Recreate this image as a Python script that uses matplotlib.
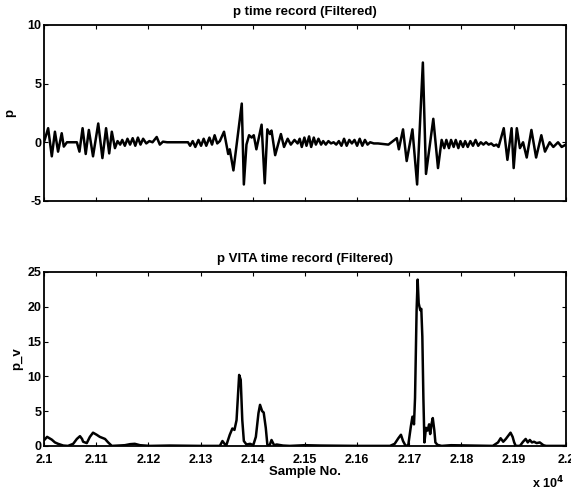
import numpy as np
import matplotlib.pyplot as plt
from matplotlib.ticker import FuncFormatter

# top panel: p (filtered), turning points
p_sample = [21000, 21008, 21015, 21021, 21027, 21034, 21038, 21044, 21063, 21068,
            21074, 21080, 21086, 21094, 21104, 21112, 21119, 21125, 21130, 21136,
            21141, 21146, 21150, 21155, 21160, 21165, 21170, 21175, 21180, 21185,
            21190, 21196, 21202, 21208, 21216, 21222, 21228, 21236, 21276, 21280,
            21285, 21290, 21296, 21301, 21306, 21311, 21317, 21322, 21327, 21332,
            21337, 21345, 21353, 21356, 21363, 21374, 21379, 21383, 21388, 21393,
            21398, 21402, 21407, 21417, 21423, 21428, 21433, 21436, 21443, 21454,
            21460, 21467, 21473, 21480, 21486, 21490, 21494, 21499, 21503, 21508,
            21512, 21517, 21521, 21526, 21531, 21535, 21540, 21545, 21550, 21555,
            21560, 21565, 21570, 21575, 21580, 21585, 21590, 21595, 21600, 21605,
            21610, 21615, 21620, 21625, 21632, 21640, 21660, 21676, 21680, 21688,
            21695, 21706, 21715, 21726, 21732, 21746, 21755, 21762, 21767, 21771,
            21776, 21780, 21785, 21789, 21794, 21798, 21803, 21807, 21812, 21817,
            21822, 21827, 21832, 21837, 21842, 21847, 21852, 21857, 21862, 21867,
            21871, 21881, 21888, 21896, 21900, 21906, 21912, 21918, 21925, 21934,
            21943, 21953, 21960, 21969, 21976, 21985, 21992, 22000]
p_value = [0.0, 1.2, -1.2, 0.9, -0.8, 0.77, -0.37, 0.0, 0.0, -0.8,
           1.2, -1.0, 1.05, -1.2, 1.6, -1.35, 1.2, -0.95, 0.9, -0.5,
           0.1, -0.2, 0.2, -0.3, 0.3, -0.2, 0.35, -0.3, 0.4, -0.2,
           0.3, -0.1, 0.1, 0.0, 0.45, -0.2, 0.05, 0.0, 0.0, -0.3,
           0.1, -0.4, 0.2, -0.3, 0.3, -0.3, 0.4, -0.2, 0.6, -0.1,
           0.1, 0.9, -1.0, -0.6, -2.4, 1.5, 3.3, -3.6, -0.2, 0.6,
           0.4, 0.6, -0.6, 1.5, -3.5, 1.1, 0.7, 1.0, -1.1, 0.7,
           -0.4, 0.3, -0.2, 0.2, -0.1, 0.3, -0.4, 0.4, -0.3, 0.5,
           -0.4, 0.4, -0.2, 0.3, -0.2, 0.1, -0.2, 0.1, -0.1, 0.0,
           -0.2, 0.1, -0.3, 0.3, -0.3, 0.2, -0.1, 0.2, -0.3, 0.3,
           -0.3, 0.2, -0.2, 0.0, -0.1, -0.1, -0.2, 0.35, -0.6, 1.1,
           -1.6, 1.1, -3.6, 6.8, -2.7, 2.0, -2.2, 0.2, -0.5, 0.2,
           -0.5, 0.2, -0.4, 0.2, -0.5, 0.1, -0.4, 0.1, -0.4, 0.1,
           -0.3, 0.2, -0.3, 0.0, -0.2, 0.0, -0.2, -0.1, -0.3, -0.2,
           -0.4, 1.2, -1.5, 1.2, -2.2, 1.2, -0.5, 0.0, -1.3, 1.05,
           -1.3, 0.6, -0.8, 0.0, -0.4, 0.0, -0.4, -0.2]

# bottom panel: VITA p_v
pv_sample = [21000, 21006, 21015, 21021, 21027, 21037, 21046, 21056, 21063, 21069,
             21073, 21075, 21082, 21088, 21094, 21101, 21107, 21117, 21123, 21130,
             21155, 21165, 21174, 21184, 21203, 21241, 21299, 21337, 21342, 21349,
             21356, 21361, 21365, 21369, 21374, 21377, 21380, 21383, 21388, 21395,
             21401, 21406, 21411, 21414, 21418, 21421, 21425, 21428, 21432, 21436,
             21441, 21446, 21458, 21471, 21500, 21530, 21600, 21663, 21672, 21679,
             21684, 21688, 21693, 21698, 21703, 21706, 21709, 21711, 21714, 21716,
             21718, 21721, 21723, 21725, 21727, 21729, 21732, 21735, 21738, 21740,
             21743, 21745, 21748, 21750, 21754, 21762, 21780, 21860, 21870, 21875,
             21880, 21885, 21890, 21894, 21898, 21901, 21904, 21912, 21918, 21923,
             21927, 21931, 21935, 21939, 21944, 21950, 21957, 21962, 22000]
pv_value = [0.8, 1.3, 0.9, 0.5, 0.3, 0.05, 0.0, 0.3, 1.0, 1.4,
            1.0, 0.6, 0.4, 1.3, 1.9, 1.6, 1.3, 1.0, 0.5, 0.0,
            0.1, 0.25, 0.3, 0.1, 0.0, 0.05, 0.0, 0.0, 0.7, 0.0,
            1.6, 2.5, 2.3, 3.7, 10.2, 9.5, 3.7, 0.7, 0.2, 0.3,
            0.1, 1.3, 4.7, 5.9, 5.0, 4.8, 2.6, 0.2, 0.0, 0.85,
            0.1, 0.2, 0.05, 0.0, 0.1, 0.05, 0.0, 0.0, 0.3, 1.1,
            1.6, 0.7, 0.0, 0.1, 2.8, 4.2, 3.1, 6.9, 19.5, 23.9,
            20.5, 19.5, 19.7, 15.7, 6.9, 0.5, 2.6, 2.2, 3.1, 1.7,
            3.3, 4.0, 2.2, 0.5, 0.15, 0.0, 0.1, 0.0, 0.5, 1.1,
            0.6, 1.0, 1.5, 1.9, 1.3, 0.5, 0.0, 0.0, 0.6, 1.0,
            0.5, 0.85, 0.5, 0.6, 0.4, 0.5, 0.1, 0.0, 0.0]

x_ticks = [2.1, 2.11, 2.12, 2.13, 2.14, 2.15, 2.16, 2.17, 2.18, 2.19, 2.2]

plt.rcParams['font.family'] = ['Liberation Sans', 'DejaVu Sans']
plt.rcParams['font.size'] = 9
plt.rcParams['font.weight'] = 'bold'
plt.rcParams['axes.labelweight'] = 'bold'
plt.rcParams['axes.unicode_minus'] = False

fig = plt.figure(figsize=(5.71, 4.90), dpi=100)
ax1 = fig.add_axes([0.077, 0.590, 0.914, 0.359])
ax2 = fig.add_axes([0.077, 0.090, 0.914, 0.355])

ax1.plot(np.array(p_sample) / 1e4, p_value, color='black', lw=1.8)
ax1.set_ylim(-5, 10)
ax1.set_yticks([-5, 0, 5, 10])
ax1.set_title('p time record (Filtered)', fontsize=9.5, fontweight='bold', pad=7)
ax1.set_ylabel('p', labelpad=8, fontsize=9.5)
ax1.tick_params(labelbottom=False)

ax2.plot(np.array(pv_sample) / 1e4, pv_value, color='black', lw=1.8)
ax2.set_ylim(0, 25)
ax2.set_yticks([0, 5, 10, 15, 20, 25])
ax2.set_title('p VITA time record (Filtered)', fontsize=9.5, fontweight='bold', pad=7)
ax2.set_ylabel('p_v', labelpad=3, fontsize=9.5)
ax2.set_xlabel('Sample No.', labelpad=0, fontsize=9.5)
ax2.xaxis.set_major_formatter(FuncFormatter(lambda v, pos: '%g' % round(v, 2)))
fig.text(0.96, 0.014, r'x 10$^4$', ha='center', va='center', fontsize=9)

for ax in (ax1, ax2):
    ax.set_xlim(2.1, 2.2)
    ax.set_xticks(x_ticks)
    ax.tick_params(direction='in', top=True, right=True, length=3, labelsize=9)
    ax.tick_params(axis='x', pad=6)
    ax.tick_params(axis='y', pad=2)
    for s in ax.spines.values():
        s.set_linewidth(1.3)

fig.savefig('out.png', dpi=100)
